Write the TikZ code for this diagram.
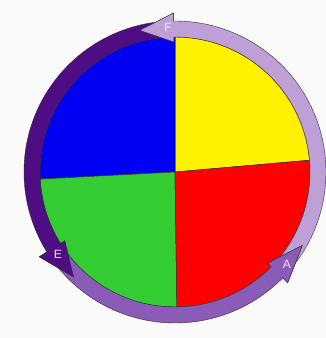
\documentclass[tikz,border=0pt]{standalone}
\usepackage{fontspec}
\setmainfont{Liberation Sans}
\definecolor{bg}{HTML}{FAFAFA}
\definecolor{pyel}{HTML}{FFF200}
\definecolor{pred}{HTML}{FF0000}
\definecolor{pblue}{HTML}{0000F2}
\definecolor{pgrn}{HTML}{33CC33}
\definecolor{plight}{HTML}{BE9FD6}
\definecolor{pmed}{HTML}{8A5CB8}
\definecolor{pdark}{HTML}{4E0D82}
\definecolor{edge}{HTML}{2E2E2E}
\definecolor{lbl}{HTML}{F2EAF8}
\begin{document}
\begin{tikzpicture}[x=1pt,y=1pt,
  wedge/.style={draw=edge,line width=0.5pt,line join=round},
  ringarrow/.style={draw=edge,line width=0.4pt,line join=round},
  lab/.style={text=lbl,font=\fontsize{12}{12}\selectfont,inner sep=0pt}]
\useasboundingbox (0,0) rectangle (326,338);
\fill[bg] (0,0) rectangle (326,338);
\begin{scope}[shift={(175,166)}]
  % pie
  \filldraw[wedge,fill=pyel] (0,0) -- (5:135pt) arc[start angle=5,end angle=90,radius=135pt] -- cycle;
  \filldraw[wedge,fill=pblue] (0,0) -- (90:135pt) arc[start angle=90,end angle=183,radius=135pt] -- cycle;
  \filldraw[wedge,fill=pgrn] (0,0) -- (183:135pt) arc[start angle=183,end angle=270.8,radius=135pt] -- cycle;
  \filldraw[wedge,fill=pred] (0,0) -- (270.8:135pt) arc[start angle=270.8,end angle=365,radius=135pt] -- cycle;
  % ring arrows: bodies with heads
  % light: 318 -> 450.5, tip 464
  \filldraw[ringarrow,fill=plight] (318:151pt) arc[start angle=318,end angle=450.5,radius=151pt] -- (450.5:159pt) -- (464:146pt) -- (450.5:130pt) -- (450.5:135pt) arc[start angle=450.5,end angle=318,radius=135pt] -- cycle;
  % dark: 93 -> 212, tip 226
  \filldraw[ringarrow,fill=pdark] (93:151pt) arc[start angle=93,end angle=212,radius=151pt] -- (212:160pt) -- (226:146pt) -- (212:130pt) -- (212:135pt) arc[start angle=212,end angle=93,radius=135pt] -- cycle;
  % medium: 215 -> 315.5, tip 330
  \filldraw[ringarrow,fill=pmed] (215:151pt) arc[start angle=215,end angle=315.5,radius=151pt] -- (315.5:158pt) -- (330:147pt) -- (315.5:130pt) -- (315.5:135pt) arc[start angle=315.5,end angle=215,radius=135pt] -- cycle;
  % heads redrawn on top
  \fill[plight] (450.5:159pt) -- (464:146pt) -- (450.5:130pt) -- cycle;
  \draw[ringarrow] (450.5:151pt) -- (450.5:159pt) -- (464:146pt) -- (450.5:130pt) -- (450.5:135pt);
  \fill[pdark] (212:160pt) -- (226:146pt) -- (212:130pt) -- cycle;
  \draw[ringarrow] (212:151pt) -- (212:160pt) -- (226:146pt) -- (212:130pt) -- (212:135pt);
  \fill[pmed] (315.5:158pt) -- (330:147pt) -- (315.5:130pt) -- cycle;
  \draw[ringarrow] (315.5:151pt) -- (315.5:158pt) -- (330:147pt) -- (315.5:130pt) -- (315.5:135pt);
\end{scope}
\node[lab] (F) at (168,311) {F};
\node[lab] (E) at (58,84) {E};
\node[lab] (A) at (287,74) {A};
\end{tikzpicture}
\end{document}
